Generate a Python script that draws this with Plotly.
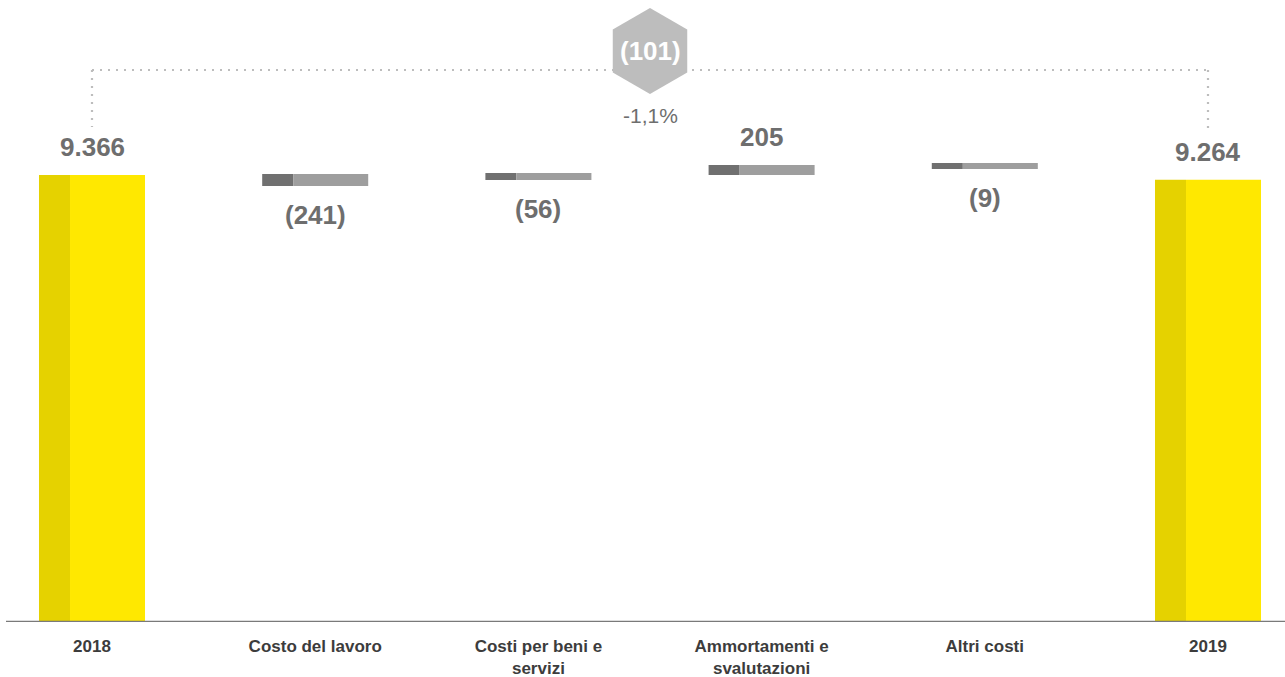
import plotly.graph_objects as go

# ---- data ----
categories = ["2018", "Costo del lavoro", "Costi per beni e<br>servizi",
              "Ammortamenti e<br>svalutazioni", "Altri costi", "2019"]
total_values = [9366, 9264]                 # 2018, 2019
delta_values = [-241, -56, 205, -9]
delta_labels = ["(241)", "(56)", "205", "(9)"]
total_labels = ["9.366", "9.264"]
# displayed extents of the delta bars (value units)
delta_low = [9135, 9261, 9366, 9492]
delta_high = [9387, 9408, 9576, 9618]
change_label = "(101)"
change_pct = "-1,1%"

# ---- layout constants ----
W, H = 1285, 677
M_L, M_R, M_T, M_B = 6, 0, 0, 55
PLOT_H = H - M_T - M_B
UPP = 9366 / 447.0            # value units per pixel
Y_MAX = PLOT_H * UPP
X_RANGE = [-0.3853, 5.345]

def py(px):
    """pixel row -> data y"""
    return (M_T + PLOT_H - px) * UPP

YEL, YEL_D = "#FFE800", "#E5D200"
GR, GR_D = "#9E9E9E", "#707070"
TXT = "#6E6E6E"
FONT = "Liberation Sans"

BW = 0.475
DW = 0.139

fig = go.Figure()

tot_x = [0, 5]
fig.add_trace(go.Bar(x=tot_x, y=total_values, base=[0, 0], width=[DW]*2,
                     offset=-BW/2, marker=dict(color=YEL_D, line_width=0),
                     hoverinfo="skip"))
fig.add_trace(go.Bar(x=tot_x, y=total_values, base=[0, 0], width=[BW-DW]*2,
                     offset=-BW/2+DW, marker=dict(color=YEL, line_width=0),
                     hoverinfo="skip"))

dx = [1, 2, 3, 4]
heights = [h - l for h, l in zip(delta_high, delta_low)]
fig.add_trace(go.Bar(x=dx, y=heights, base=delta_low, width=[DW]*4,
                     offset=-BW/2, marker=dict(color=GR_D, line_width=0),
                     hoverinfo="skip"))
fig.add_trace(go.Bar(x=dx, y=heights, base=delta_low, width=[BW-DW]*4,
                     offset=-BW/2+DW, marker=dict(color=GR, line_width=0),
                     hoverinfo="skip"))

VF = dict(family=FONT, size=26, color=TXT, weight="bold")
annotations = []
for x, v, lab in zip(tot_x, total_values, total_labels):
    annotations.append(dict(x=x, y=v, text=lab, showarrow=False, yanchor="middle",
                            yshift=28, font=VF))
for x, v, lo, hi, lab in zip(dx, delta_values, delta_low, delta_high, delta_labels):
    if v < 0:
        annotations.append(dict(x=x, y=lo, text=lab, showarrow=False, yanchor="middle",
                                yshift=-29, font=VF))
    else:
        annotations.append(dict(x=x, y=hi, text=lab, showarrow=False, yanchor="middle",
                                yshift=28, font=VF))

dot = dict(color="#BDBDBD", width=2.2, dash="2px,6px")
shapes = [
    dict(type="line", xref="x", yref="y", x0=0, x1=5, y0=py(70), y1=py(70), line=dot, layer="below"),
    dict(type="line", xref="x", yref="y", x0=0, x1=0, y0=py(70), y1=py(127), line=dot, layer="below"),
    dict(type="line", xref="x", yref="y", x0=5, x1=5, y0=py(70), y1=py(133), line=dot, layer="below"),
    dict(type="line", xref="paper", yref="y", x0=0, x1=1, y0=0, y1=0,
         line=dict(color="#7A7A7A", width=2.5), layer="above"),
]

fig.add_trace(go.Scatter(x=[2.5], y=[py(51)], mode="markers",
                         marker=dict(symbol="hexagon", size=86, color="#BDBDBD", line_width=0),
                         hoverinfo="skip"))
annotations.append(dict(x=2.5, y=py(51), text=change_label, showarrow=False, yanchor="middle",
                        font=dict(family=FONT, size=26, color="white", weight="bold")))
annotations.append(dict(x=2.5, y=py(115), text=change_pct, showarrow=False, yanchor="middle",
                        font=dict(family=FONT, size=21, color=TXT)))

fig.update_layout(
    width=W, height=H,
    margin=dict(l=M_L, r=M_R, t=M_T, b=M_B, pad=0, autoexpand=False),
    barmode="overlay",
    showlegend=False,
    plot_bgcolor="white", paper_bgcolor="white",
    xaxis=dict(range=X_RANGE, tickvals=list(range(6)), ticktext=categories,
               showgrid=False, zeroline=False, showline=False, ticks="",
               ticklabelstandoff=12, automargin=False,
               tickfont=dict(family=FONT, size=17, color="#3C3C3C", weight="bold"),
               fixedrange=True),
    yaxis=dict(range=[0, Y_MAX], visible=False, fixedrange=True, automargin=False),
    annotations=annotations,
    shapes=shapes,
)

fig.write_html("out.html", config={"displayModeBar": False},
               post_script="document.body.style.margin='0';")
